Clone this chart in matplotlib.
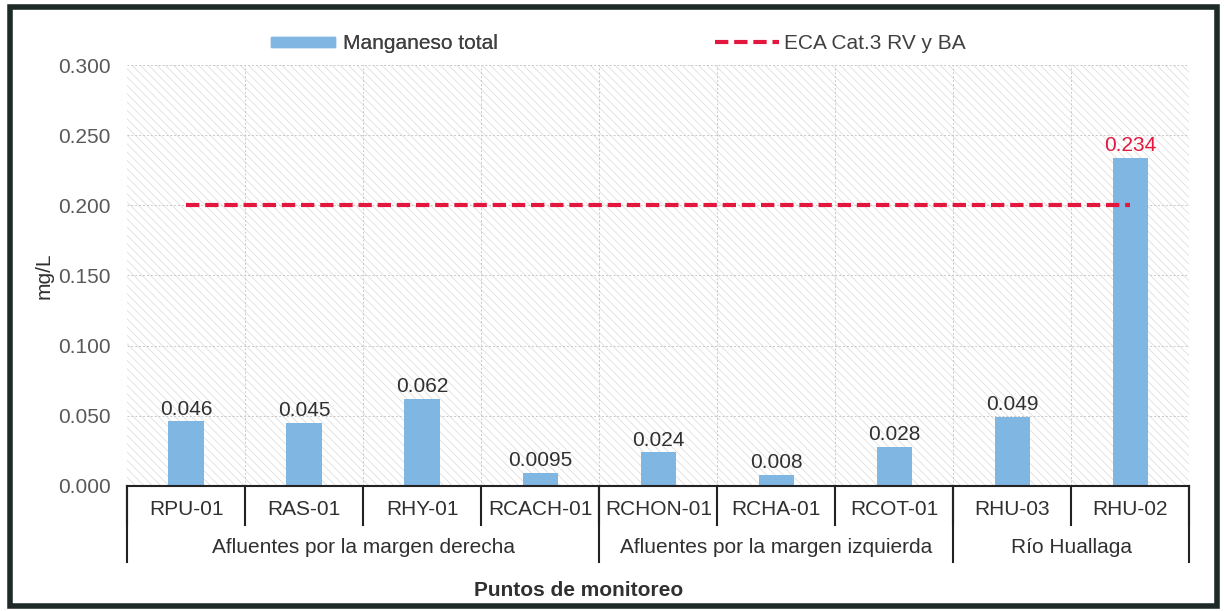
import matplotlib

matplotlib.use("Agg")
import matplotlib.pyplot as plt
from matplotlib.patches import Rectangle
from matplotlib.lines import Line2D
import matplotlib.transforms as mtransforms

plt.rcParams["font.family"] = ["Liberation Sans", "DejaVu Sans"]
plt.rcParams["hatch.linewidth"] = 0.5

stations = ["RPU-01", "RAS-01", "RHY-01", "RCACH-01", "RCHON-01",
            "RCHA-01", "RCOT-01", "RHU-03", "RHU-02"]
manganese = [0.046, 0.045, 0.062, 0.0095, 0.024, 0.008, 0.028, 0.049, 0.234]
value_labels = ["0.046", "0.045", "0.062", "0.0095", "0.024",
                "0.008", "0.028", "0.049", "0.234"]
groups = ["Afluentes por la margen derecha",
          "Afluentes por la margen izquierda", "Río Huallaga"]
group_sizes = [4, 3, 2]
eca_limit = 0.2

BAR = "#80b6e2"
RED = "#e3173e"
GREY = "#595959"
TXT = "#303030"
FS = 15

fig = plt.figure(figsize=(12.24, 6.11), dpi=100)
ax = fig.add_axes([0.1038, 0.2046, 0.868, 0.689])

x = list(range(len(stations)))
ax.set_xlim(-0.5, len(stations) - 0.5)
ax.set_ylim(0, 0.3)

# hatched plot background
ax.add_patch(Rectangle((0, 0), 1, 1, transform=ax.transAxes, facecolor="white",
                       edgecolor="#d8d8d8", hatch="\\\\\\\\", linewidth=0, zorder=0))

ax.bar(x, manganese, width=0.3, color=BAR, zorder=3)
ax.plot(x, [eca_limit] * len(x), color=RED, linestyle=(0, (3.2, 1.4)),
        linewidth=3, zorder=4)

for xi, v, lab in zip(x, manganese, value_labels):
    ax.text(xi, v + 0.002, lab, ha="center", va="bottom", fontsize=FS,
            color=RED if v > eca_limit else TXT, zorder=5)

ax.set_yticks([0, 0.05, 0.1, 0.15, 0.2, 0.25, 0.3])
ax.set_yticklabels([f"{t:.3f}" for t in ax.get_yticks()])
ax.tick_params(axis="y", length=0, labelsize=FS, labelcolor=GREY, pad=12)
ax.set_xticks([])
ax.set_xticks([i + 0.5 for i in range(len(stations) - 1)], minor=True)
ax.tick_params(axis="x", which="minor", length=0)
ax.grid(axis="y", color="#c8c8c8", linestyle=(0, (2, 2)), linewidth=0.7, zorder=1)
ax.grid(axis="x", which="minor", color="#c8c8c8", linestyle=(0, (2, 2)),
        linewidth=0.7, zorder=1)
for s in ["top", "right", "left"]:
    ax.spines[s].set_visible(False)
ax.spines["bottom"].set_color("#222222")
ax.spines["bottom"].set_linewidth(1.5)
ax.spines["bottom"].set_zorder(6)

ax.set_ylabel("mg/L", fontsize=FS, color=TXT, labelpad=3)

# multi-level category axis
trans = mtransforms.blended_transform_factory(ax.transData, ax.transAxes)
for b in range(len(stations) + 1):
    ax.add_line(Line2D([b - 0.5, b - 0.5], [0, -0.093], transform=trans,
                       color="#222222", linewidth=1.5, clip_on=False))
for xi, name in zip(x, stations):
    ax.text(xi, -0.057, name, transform=trans, ha="center", va="center",
            fontsize=FS, color=TXT)
start = 0
for g, n in zip(groups, group_sizes):
    ax.add_line(Line2D([start - 0.5, start - 0.5], [0, -0.18], transform=trans,
                       color="#222222", linewidth=1.5, clip_on=False))
    ax.text(start - 0.5 + n / 2, -0.147, g, transform=trans, ha="center",
            va="center", fontsize=FS, color=TXT)
    start += n
ax.add_line(Line2D([start - 0.5, start - 0.5], [0, -0.18], transform=trans,
                   color="#222222", linewidth=1.5, clip_on=False))

fig.text(0.473, 0.034, "Puntos de monitoreo", ha="center", va="center",
         fontsize=FS, fontweight="bold", color=TXT)

# legend at top
leg1 = fig.legend([Rectangle((0, 0), 1, 1, color=BAR)], ["Manganeso total"],
                  loc="center left", bbox_to_anchor=(0.221, 0.928), frameon=False,
                  fontsize=FS, handlelength=3.1, handleheight=0.4,
                  handletextpad=0.4, labelcolor="#404040", borderpad=0,
                  borderaxespad=0)
fig.legend([Line2D([0], [0], color=RED, linestyle=(0, (3.2, 1.4)), linewidth=3)],
           ["ECA Cat.3 RV y BA"], loc="center left",
           bbox_to_anchor=(0.584, 0.928), frameon=False, fontsize=FS,
           handlelength=3.1, handletextpad=0.2, labelcolor="#404040",
           borderpad=0, borderaxespad=0)
fig.add_artist(leg1)

# outer frame
fig.add_artist(Rectangle((0.008, 0.008), 0.986, 0.98, transform=fig.transFigure,
                         fill=False, edgecolor="#1e2a28", linewidth=4))

fig.savefig("out.png", dpi=100)
